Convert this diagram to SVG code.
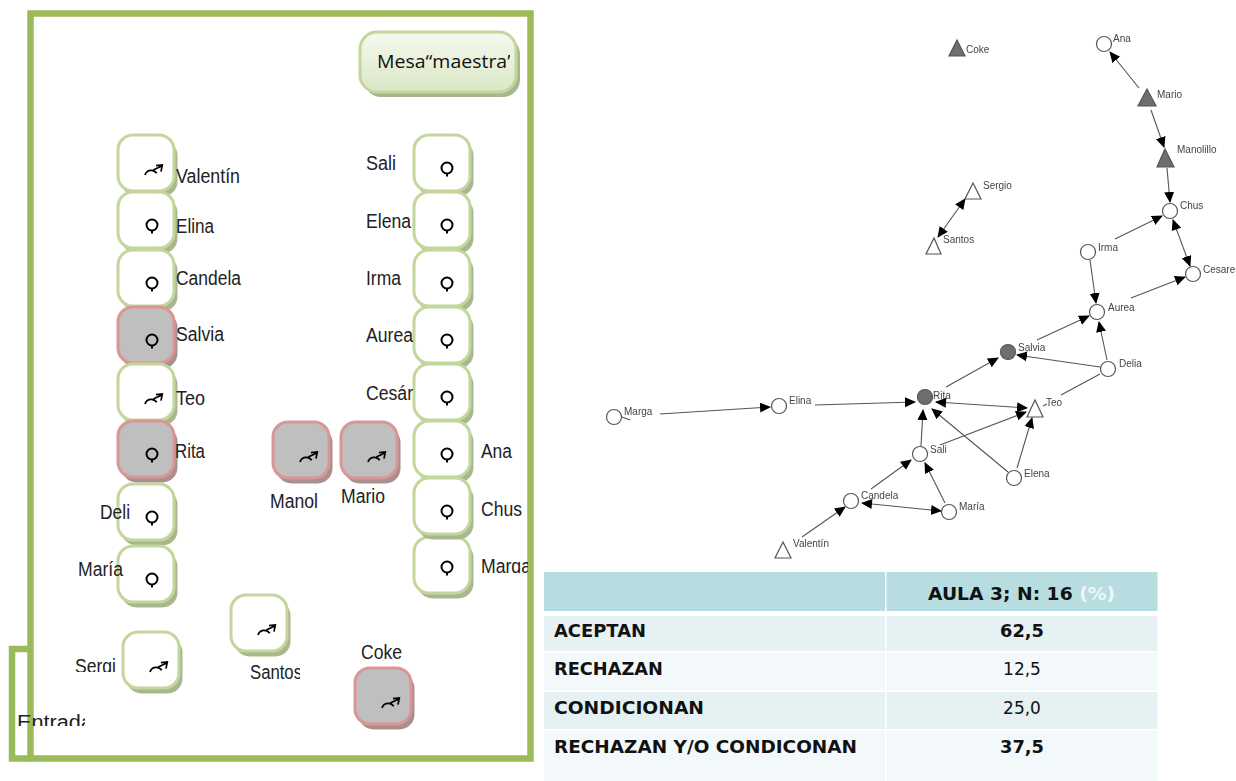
<svg xmlns="http://www.w3.org/2000/svg" width="1236" height="781" viewBox="0 0 1236 781">
<style>
.sh{fill:#a9b78f}.shr{fill:#a98f8f}
.n{fill:#fff;stroke:#c3d69b;stroke-width:3}
.r{fill:#bfbfbf;stroke:#d99694;stroke-width:3}
.lb{font-family:"Liberation Sans",Arial,sans-serif;font-size:20px;fill:#222}
.g{fill:none;stroke:#000;stroke-width:2}
.gm{fill:none;stroke:#000;stroke-width:1.7}
.frame{fill:none;stroke:#9bbb59;stroke-width:6.5}
.e{stroke:#555;stroke-width:1.1;fill:none;marker-end:url(#a)}
.eb{stroke:#555;stroke-width:1.1;fill:none;marker-end:url(#a);marker-start:url(#as)}
.l{stroke:#555;stroke-width:1.1;fill:none}
.c{fill:#fff;stroke:#555;stroke-width:1.2}
.cg{fill:#6e6e6e;stroke:#555;stroke-width:1.2}
.t{font-family:"Liberation Sans",Arial,sans-serif;font-size:10px;fill:#444}
.th{font-family:"DejaVu Sans",Verdana,sans-serif;font-size:17px;fill:#111}
.b{font-weight:bold}
.m{text-anchor:middle}
</style>
<defs>
<marker id="a" markerWidth="12" markerHeight="12" refX="10" refY="5" orient="auto" markerUnits="userSpaceOnUse"><path d="M0 0L11 5L0 10Z" fill="#000"/></marker>
<marker id="as" markerWidth="12" markerHeight="12" refX="1" refY="5" orient="auto" markerUnits="userSpaceOnUse"><path d="M11 0L0 5L11 10Z" fill="#000"/></marker>
<linearGradient id="mg" x1="0" y1="0" x2="0" y2="1"><stop offset="0" stop-color="#f5f9ee"/><stop offset="1" stop-color="#dbe7c6"/></linearGradient>
<filter id="bl" x="-5%" y="-5%" width="110%" height="110%"><feGaussianBlur stdDeviation="0.5"/></filter>
<g id="fe"><circle cx="34" cy="33" r="5.500" class="g"/><path d="M34 38.500V41.500" class="g"/></g>
<g id="ma"><path d="M27 40A6.500 6.500 0 0 1 38.700 38.300" class="gm"/><path d="M35.300 35L44.300 30.700M38 30.700L44.300 30L43 36.700" class="gm"/></g>
<g id="nb"><rect x="3.500" y="5.500" width="56" height="56" rx="15" class="sh"/><rect x="0" y="0" width="56" height="56" rx="15" class="n"/></g>
<g id="rb"><rect x="3.500" y="5.500" width="56" height="56" rx="15" class="shr"/><rect x="0" y="0" width="56" height="56" rx="15" class="r"/></g>
<clipPath id="cMesa"><rect x="370" y="40" width="140" height="40"/></clipPath>
<clipPath id="cEnt"><rect x="10" y="700" width="75" height="26"/></clipPath>
<clipPath id="cSan"><rect x="240" y="655" width="60" height="30"/></clipPath>
<clipPath id="cBot1"><rect x="170" y="160" width="80" height="25"/></clipPath>
<clipPath id="cSer"><rect x="70" y="650" width="50" height="22"/></clipPath>
<clipPath id="cEle"><rect x="360" y="210" width="52" height="18"/></clipPath>
<clipPath id="cMar"><rect x="475" y="550" width="53" height="23"/></clipPath>
</defs>

<g id="frame"><rect x="30.500" y="13.500" width="500" height="745" class="frame"/><path d="M31 649H12V758.500H31" class="frame"/></g>

<g id="mesa"><rect x="364" y="37" width="156" height="60" rx="17" class="sh"/><rect x="360" y="32" width="156" height="60" rx="17" fill="url(#mg)" stroke="#c3d69b" stroke-width="3"/><text x="377" y="68" clip-path="url(#cMesa)" font-family="'Open Sans','Noto Sans',sans-serif" font-size="18" fill="#111" textLength="137" lengthAdjust="spacingAndGlyphs">Mesa“maestra”</text></g>

<g id="valentin"><use href="#nb" x="118" y="135"/><use href="#ma" x="118" y="135"/><text class="lb" x="176" y="183" textLength="64" lengthAdjust="spacingAndGlyphs" clip-path="url(#cBot1)">Valentín</text></g>
<g id="elina"><use href="#nb" x="118" y="192"/><use href="#fe" x="118" y="192"/><text class="lb" x="176" y="233" textLength="38" lengthAdjust="spacingAndGlyphs">Elina</text></g>
<g id="candela"><use href="#nb" x="118" y="250"/><use href="#fe" x="118" y="250"/><text class="lb" x="176" y="285" textLength="65" lengthAdjust="spacingAndGlyphs">Candela</text></g>
<g id="salvia"><use href="#rb" x="118" y="307"/><use href="#fe" x="118" y="307"/><text class="lb" x="176" y="341" textLength="48" lengthAdjust="spacingAndGlyphs">Salvia</text></g>
<g id="teo"><use href="#nb" x="118" y="364"/><use href="#ma" x="118" y="364"/><text class="lb" x="176" y="405" textLength="29" lengthAdjust="spacingAndGlyphs">Teo</text></g>
<g id="rita"><use href="#rb" x="118" y="421"/><use href="#fe" x="118" y="421"/><text class="lb" x="175" y="458" textLength="30" lengthAdjust="spacingAndGlyphs">Rita</text></g>
<g id="delia"><use href="#nb" x="118" y="484"/><use href="#fe" x="118" y="484"/><text class="lb" x="100" y="519" textLength="30" lengthAdjust="spacingAndGlyphs">Deli</text></g>
<g id="maria"><use href="#nb" x="118" y="546"/><use href="#fe" x="118" y="546"/><text class="lb" x="78" y="576" textLength="45" lengthAdjust="spacingAndGlyphs">María</text></g>
<g id="sergio"><use href="#nb" x="123" y="632"/><use href="#ma" x="123" y="632"/><text class="lb" x="75" y="673" textLength="41" lengthAdjust="spacingAndGlyphs" clip-path="url(#cSer)">Sergi</text></g>
<g id="santos"><use href="#nb" x="231" y="595"/><use href="#ma" x="231" y="595"/><text class="lb" x="250" y="679" textLength="52" lengthAdjust="spacingAndGlyphs" clip-path="url(#cSan)">Santos</text></g>
<g id="coke"><use href="#rb" x="355" y="668"/><use href="#ma" x="355" y="668"/><text class="lb" x="361" y="659" textLength="41" lengthAdjust="spacingAndGlyphs">Coke</text></g>
<g id="manolillo"><use href="#rb" x="273" y="422"/><use href="#ma" x="273" y="422"/><text class="lb" x="270" y="508" textLength="48" lengthAdjust="spacingAndGlyphs">Manol</text></g>
<g id="mario"><use href="#rb" x="341" y="422"/><use href="#ma" x="341" y="422"/><text class="lb" x="341" y="503" textLength="44" lengthAdjust="spacingAndGlyphs">Mario</text></g>

<g id="sali"><use href="#nb" x="414" y="135"/><use href="#fe" x="413" y="135"/><text class="lb" x="366" y="170" textLength="30" lengthAdjust="spacingAndGlyphs">Sali</text></g>
<g id="elena"><use href="#nb" x="414" y="192"/><use href="#fe" x="413" y="192"/><text class="lb" x="366" y="228" textLength="45" lengthAdjust="spacingAndGlyphs" clip-path="url(#cEle)">Elena</text></g>
<g id="irma"><use href="#nb" x="414" y="250"/><use href="#fe" x="413" y="250"/><text class="lb" x="366" y="285" textLength="35" lengthAdjust="spacingAndGlyphs">Irma</text></g>
<g id="aurea"><use href="#nb" x="414" y="307"/><use href="#fe" x="413" y="307"/><text class="lb" x="366" y="342" textLength="47" lengthAdjust="spacingAndGlyphs">Aurea</text></g>
<g id="cesareo"><use href="#nb" x="414" y="364"/><use href="#fe" x="413" y="364"/><text class="lb" x="366" y="400" textLength="47" lengthAdjust="spacingAndGlyphs">Cesár</text></g>
<g id="ana"><use href="#nb" x="414" y="421"/><use href="#fe" x="413" y="421"/><text class="lb" x="481" y="458" textLength="31" lengthAdjust="spacingAndGlyphs">Ana</text></g>
<g id="marga"><use href="#nb" x="414" y="537"/><use href="#fe" x="413" y="534"/><text class="lb" x="481" y="573" textLength="50" lengthAdjust="spacingAndGlyphs" clip-path="url(#cMar)">Marga</text></g>
<g id="chus"><use href="#nb" x="414" y="478"/><use href="#fe" x="413" y="478"/><text class="lb" x="481" y="516" textLength="41" lengthAdjust="spacingAndGlyphs">Chus</text></g>
<g id="entrada"><text class="lb" x="17" y="729" font-size="20" textLength="76" lengthAdjust="spacingAndGlyphs" clip-path="url(#cEnt)">Entrada</text></g>

<g filter="url(#bl)">
<g id="connectors">
<path class="e" d="M1139 88L1110 52"/>
<path class="e" d="M1151 110L1164 147"/>
<path class="e" d="M1167 168L1170 202"/>
<path class="e" d="M1115 239L1162 216"/>
<path class="eb" d="M1173 220L1190 266"/>
<path class="e" d="M1090 260L1096 303"/>
<path class="e" d="M1131 298L1185 277"/>
<path class="eb" d="M965 199L938 237"/>
<path class="e" d="M1037 340L1089 316"/>
<path class="e" d="M1107 360L1099 322"/>
<path class="e" d="M1100 367L1017 355"/>
<path class="l" d="M1100 374L1061 395M1047 404L1043 406"/>
<path class="e" d="M946 387L998 358"/>
<path class="eb" d="M936 402L1027 408"/>
<path class="e" d="M940 445L1026 412"/>
<path class="e" d="M921 446L923 410"/>
<path class="e" d="M1008 472L932 409"/>
<path class="e" d="M1017 468L1032 418"/>
<path class="e" d="M815 405L915 402"/>
<path class="e" d="M660 414L770 407"/>
<path class="l" d="M622 417L630 420"/>
<path class="e" d="M871 489L911 460"/>
<path class="eb" d="M862 503L941 511"/>
<path class="e" d="M945 503L925 463"/>
<path class="e" d="M802 537L845 507"/>
</g>
<g id="g-coke"><path class="cg" d="M957 40L965 56H949Z"/><text class="t" x="966" y="53">Coke</text></g>
<g id="g-ana"><circle class="c" cx="1104" cy="44" r="7.500"/><text class="t" x="1113" y="42">Ana</text></g>
<g id="g-mario"><path class="cg" d="M1147 89L1156 106H1138Z"/><text class="t" x="1157" y="98">Mario</text></g>
<g id="g-manolillo"><path class="cg" d="M1165 149L1174 167H1157Z"/><text class="t" x="1177" y="153">Manolillo</text></g>
<g id="g-sergio"><path class="c" d="M973 183L981 199H965Z"/><text class="t" x="983" y="189">Sergio</text></g>
<g id="g-santos"><path class="c" d="M934 238L941 254H926Z"/><text class="t" x="943" y="243">Santos</text></g>
<g id="g-chus"><circle class="c" cx="1170" cy="211" r="7.500"/><text class="t" x="1180" y="209">Chus</text></g>
<g id="g-irma"><circle class="c" cx="1088" cy="252" r="7.500"/><text class="t" x="1098" y="251">Irma</text></g>
<g id="g-cesareo"><circle class="c" cx="1193" cy="274" r="7.500"/><text class="t" x="1203" y="273">Cesare</text></g>
<g id="g-aurea"><circle class="c" cx="1097" cy="312" r="7.500"/><text class="t" x="1108" y="311">Aurea</text></g>
<g id="g-salvia"><circle class="cg" cx="1008" cy="352" r="7.500"/><text class="t" x="1018" y="351">Salvia</text></g>
<g id="g-delia"><circle class="c" cx="1108" cy="369" r="7.500"/><text class="t" x="1119" y="367">Delia</text></g>
<g id="g-rita"><circle class="cg" cx="925" cy="397" r="7.500"/><text class="t" x="933" y="399">Rita</text></g>
<g id="g-teo"><path class="c" d="M1035 400L1043 417H1027Z"/><text class="t" x="1046" y="406">Teo</text></g>
<g id="g-elina"><circle class="c" cx="779" cy="406" r="7.500"/><text class="t" x="789" y="404">Elina</text></g>
<g id="g-marga"><circle class="c" cx="614" cy="417" r="7.500"/><text class="t" x="624" y="415">Marga</text></g>
<g id="g-sali"><circle class="c" cx="920" cy="454" r="7.500"/><text class="t" x="930" y="453">Sali</text></g>
<g id="g-elena"><circle class="c" cx="1014" cy="478" r="7.500"/><text class="t" x="1024" y="477">Elena</text></g>
<g id="g-maria"><circle class="c" cx="949" cy="512" r="7.500"/><text class="t" x="959" y="510">María</text></g>
<g id="g-candela"><circle class="c" cx="851" cy="501" r="7.500"/><text class="t" x="861" y="499">Candela</text></g>
<g id="g-valentin"><path class="c" d="M783 542L791 558H775Z"/><text class="t" x="793" y="547">Valentín</text></g>
</g>

<g id="table">
<rect x="544" y="572" width="341" height="39" fill="#b7dde0"/><rect x="886.500" y="572" width="271" height="39" fill="#b7dde0"/>
<rect x="544" y="616" width="341" height="35" fill="#e6f1f3"/><rect x="886.500" y="616" width="271" height="35" fill="#e6f1f3"/>
<rect x="544" y="652.500" width="341" height="38" fill="#f3f8fb"/><rect x="886.500" y="652.500" width="271" height="38" fill="#f3f8fb"/>
<rect x="544" y="692" width="341" height="37" fill="#e6f1f3"/><rect x="886.500" y="692" width="271" height="37" fill="#e6f1f3"/>
<rect x="544" y="730.500" width="341" height="50.500" fill="#f3f8fb"/><rect x="886.500" y="730.500" width="271" height="50.500" fill="#f3f8fb"/>
<text class="th b" x="928" y="600" textLength="187" lengthAdjust="spacingAndGlyphs">AULA 3; N: 16 <tspan fill="#eef7f8">(%)</tspan></text>
<text class="th b" x="554" y="637" textLength="92" lengthAdjust="spacingAndGlyphs">ACEPTAN</text>
<text class="th b" x="554" y="675" textLength="109" lengthAdjust="spacingAndGlyphs">RECHAZAN</text>
<text class="th b" x="554" y="714" textLength="150" lengthAdjust="spacingAndGlyphs">CONDICIONAN</text>
<text class="th b" x="554" y="753" textLength="303" lengthAdjust="spacingAndGlyphs">RECHAZAN Y/O CONDICONAN</text>
<text class="th b m" x="1022" y="637" textLength="44" lengthAdjust="spacingAndGlyphs">62,5</text>
<text class="th m" x="1022" y="675">12,5</text>
<text class="th m" x="1022" y="714">25,0</text>
<text class="th b m" x="1022" y="753" textLength="44" lengthAdjust="spacingAndGlyphs">37,5</text>
</g>
</svg>
